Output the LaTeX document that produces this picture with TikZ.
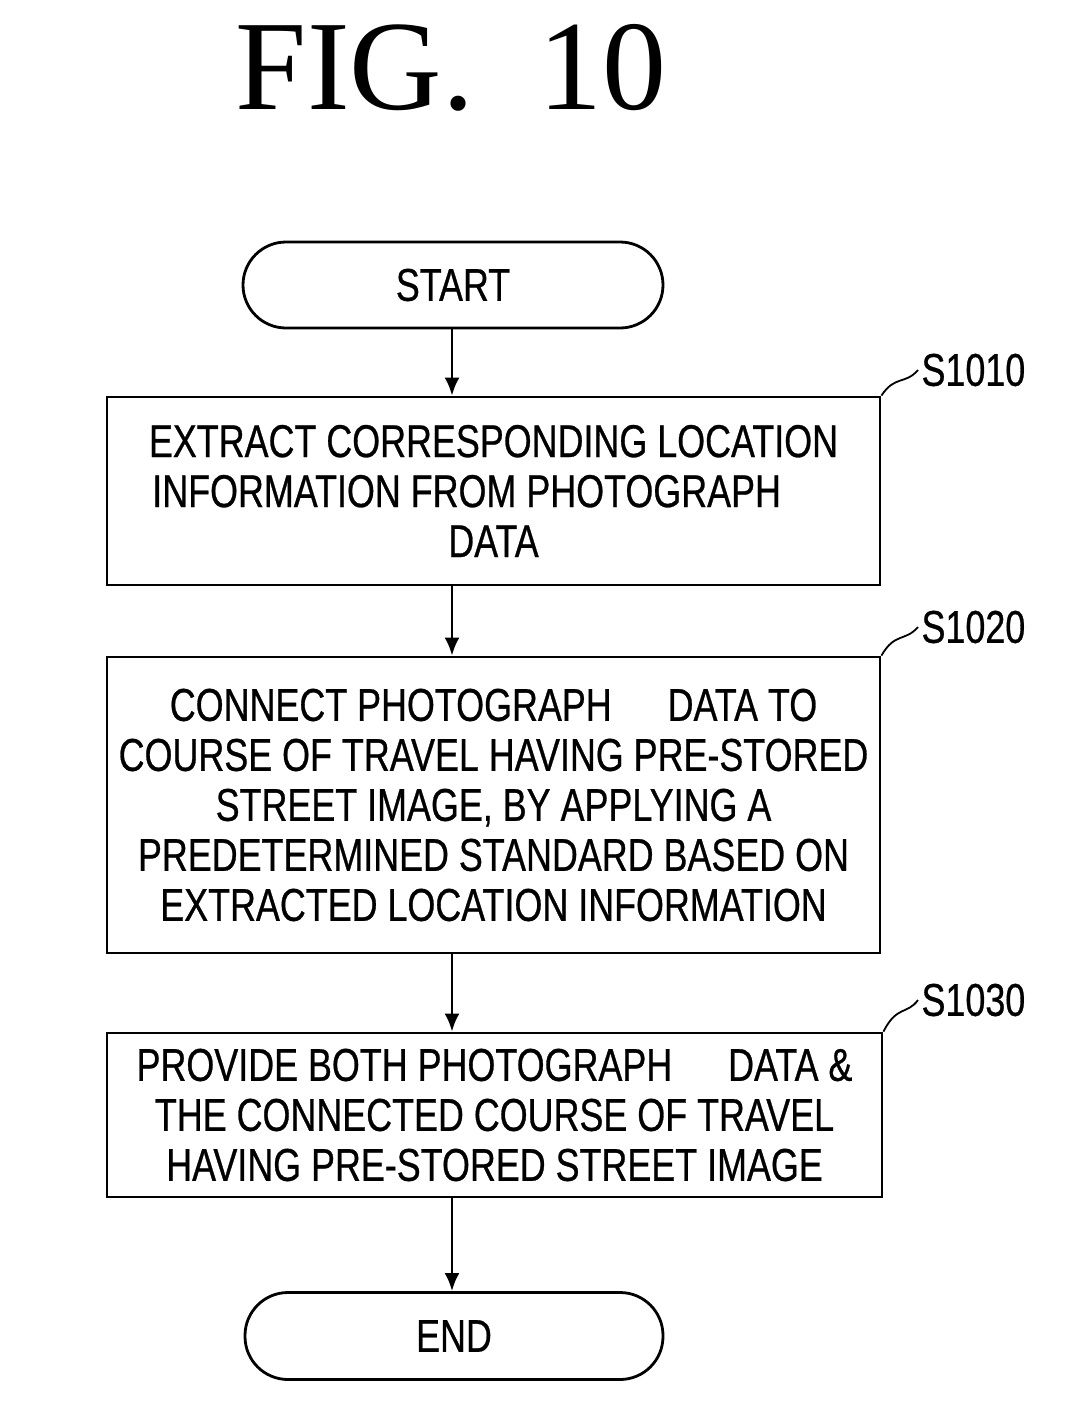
\documentclass[tikz,border=0pt]{standalone}
\usepackage{fontspec}
\setmainfont{Liberation Serif}
\newfontfamily\cond[FakeStretch=0.78,FakeBold=0.6]{Liberation Sans}
\begin{document}
\begin{tikzpicture}[x=1pt,y=-1pt,
  box/.style={draw,line width=2.8pt,inner sep=0pt,align=center,font=\cond\fontsize{46}{50}\selectfont},
  term/.style={draw,line width=2.8pt,rounded corners=43pt,inner sep=0pt,font=\cond\fontsize{46}{50}\selectfont},
  arr/.style={line width=2.8pt,-{Latex[length=18pt,width=15pt]}},
  lbl/.style={font=\cond\fontsize{46}{50}\selectfont,anchor=west}]
\usetikzlibrary{arrows.meta}
\useasboundingbox (0,0) rectangle (1068,1413);
\node[font=\fontsize{128}{130}\selectfont] (title) at (451,68) {FIG.\ \ 10};
\node[term,minimum width=420pt,minimum height=86pt] (start) at (453,285) {START};
\node[box,minimum width=773pt,minimum height=188pt] (b1) at (493.5,491) {EXTRACT CORRESPONDING LOCATION\\INFORMATION FROM PHOTOGRAPH\phantom{xxx}\\DATA};
\node[box,minimum width=773pt,minimum height=296pt] (b2) at (493.5,805) {CONNECT PHOTOGRAPH\quad\ DATA TO\\COURSE OF TRAVEL HAVING PRE-STORED\\STREET IMAGE, BY APPLYING A\\PREDETERMINED STANDARD BASED ON\\EXTRACTED LOCATION INFORMATION};
\node[box,minimum width=775pt,minimum height=164pt] (b3) at (494.5,1115) {PROVIDE BOTH PHOTOGRAPH\quad\ DATA \&\\THE CONNECTED COURSE OF TRAVEL\\HAVING PRE-STORED STREET IMAGE};
\node[term,minimum width=418pt,minimum height=87pt] (end) at (454,1336) {END};
\draw[arr] (start.south -| 452,0) -- (b1.north -| 452,0);
\draw[arr] (b1.south -| 452,0) -- (b2.north -| 452,0);
\draw[arr] (b2.south -| 452,0) -- (b3.north -| 452,0);
\draw[arr] (b3.south -| 452,0) -- (end.north -| 452,0);
\node[lbl] (l1) at (918,370) {S1010};
\node[lbl] (l2) at (918,627) {S1020};
\node[lbl] (l3) at (918,1000) {S1030};
\draw[line width=1.8pt] (b1.north east) .. controls (895,375) and (905,385) .. (l1.west);
\draw[line width=1.8pt] (b2.north east) .. controls (895,632) and (905,642) .. (l2.west);
\draw[line width=1.8pt] (b3.north east) .. controls (897,1005) and (907,1015) .. (l3.west);
\end{tikzpicture}
\end{document}
